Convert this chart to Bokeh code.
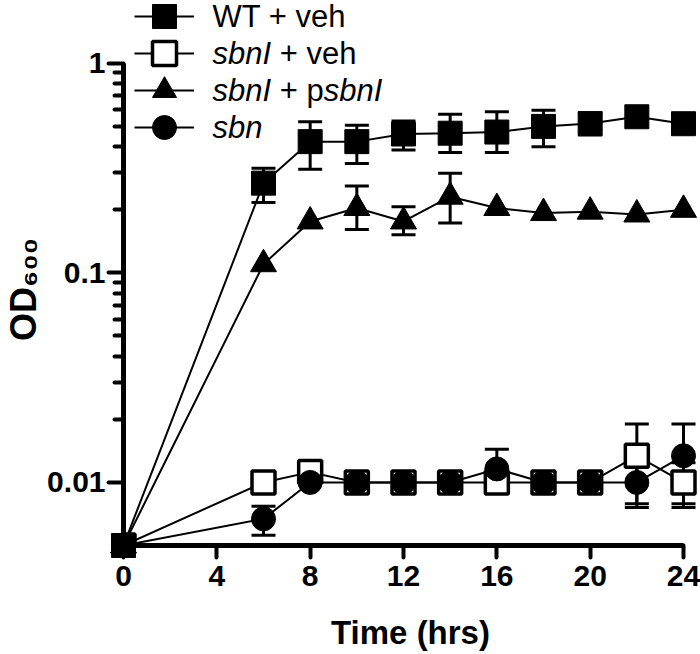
from bokeh.plotting import figure
from bokeh.models import (Range1d, FixedTicker, Whisker, TeeHead, ColumnDataSource,
                          Legend, LegendItem, Label)
from bokeh.embed import file_html
from bokeh.resources import INLINE

# ---------------- data ----------------
time_hrs = [0, 6, 8, 10, 12, 14, 16, 18, 20, 22, 24]

wt_veh = [0.005, 0.268, 0.423, 0.423, 0.46, 0.464, 0.47, 0.50, 0.516, 0.556, 0.515]
sbni_veh = [0.005, 0.010, 0.0112, 0.010, 0.010, 0.010, 0.010, 0.010, 0.010, 0.0134, 0.010]
sbni_psbni = [0.005, 0.110, 0.176, 0.204, 0.176, 0.231, 0.204, 0.193, 0.196, 0.190, 0.200]
sbn = [0.005, 0.0067, 0.010, 0.010, 0.010, 0.010, 0.0116, 0.010, 0.010, 0.010, 0.0134]

wt_err_t = [6, 8, 10, 12, 14, 16, 18, 20]
wt_err_lo = [0.217, 0.312, 0.333, 0.386, 0.375, 0.375, 0.40, 0.455]
wt_err_hi = [0.316, 0.526, 0.507, 0.53, 0.572, 0.587, 0.598, 0.575]

sbni_veh_err_t = [22, 24]
sbni_veh_err_lo = [0.0079, 0.0076]
sbni_veh_err_hi = [0.019, 0.0124]

psbni_err_t = [10, 12, 14]
psbni_err_lo = [0.161, 0.152, 0.173]
psbni_err_hi = [0.26, 0.207, 0.299]

sbn_err_t = [6, 16, 22, 24]
sbn_err_lo = [0.0056, 0.0093, 0.0076, 0.0079]
sbn_err_hi = [0.0077, 0.0144, 0.0124, 0.019]

y_major = [0.01, 0.1, 1]
y_minor = [0.02, 0.03, 0.04, 0.05, 0.06, 0.07, 0.08, 0.09,
           0.2, 0.3, 0.4, 0.5, 0.6, 0.7, 0.8, 0.9]
x_major = [0, 4, 8, 12, 16, 20, 24]

# ---------------- figure ----------------
FRAME_W, FRAME_H = 574, 542
BORDER_L, BORDER_R, BORDER_T, BORDER_B = 123, 3, 3, 109
p = figure(frame_width=FRAME_W, frame_height=FRAME_H, y_axis_type="log",
           x_range=Range1d(0, 24.6), y_range=Range1d(0.005, 1.93),
           output_backend="svg", toolbar_location=None,
           min_border_left=BORDER_L, min_border_right=BORDER_R,
           min_border_top=BORDER_T, min_border_bottom=BORDER_B)
p.xgrid.visible = False
p.ygrid.visible = False
p.outline_line_color = None
p.background_fill_color = "white"
p.border_fill_color = "white"

FONT = "Liberation Sans"

# x axis
xa = p.xaxis[0]
xa.bounds = (0, 24)
xa.ticker = FixedTicker(ticks=x_major)
xa.axis_line_width = 5
xa.major_tick_line_width = 4
xa.major_tick_line_cap = "round"
xa.major_tick_out = 12
xa.major_tick_in = 0
xa.minor_tick_line_color = None
xa.minor_tick_out = 0
xa.major_label_text_font = FONT
xa.major_label_text_font_style = "bold"
xa.major_label_text_font_size = "30px"
xa.major_label_text_color = "black"
xa.major_label_standoff = 8
xa.axis_label = "Time (hrs)"
xa.axis_label_text_font = FONT
xa.axis_label_text_font_style = "bold"
xa.axis_label_text_font_size = "33px"
xa.axis_label_text_color = "black"
xa.axis_label_standoff = 25

# y axis
ya = p.yaxis[0]
ya.bounds = (0.005, 1)
ya.ticker = FixedTicker(ticks=y_major, minor_ticks=y_minor)
ya.major_label_overrides = {v: f"{v:g}" for v in y_major}
ya.axis_line_width = 5
ya.major_tick_line_width = 4
ya.minor_tick_line_width = 4
ya.major_tick_line_cap = "round"
ya.minor_tick_line_cap = "round"
ya.major_tick_out = 15
ya.major_tick_in = 0
ya.minor_tick_out = 9
ya.minor_tick_in = 0
ya.major_label_text_font = FONT
ya.major_label_text_font_style = "bold"
ya.major_label_text_font_size = "30px"
ya.major_label_text_color = "black"
ya.major_label_standoff = 3
ya.axis_label = "OD\u2086\u2080\u2080\u00a0\u00a0\u00a0"
ya.axis_label_text_font = FONT
ya.axis_label_text_font_style = "bold"
ya.axis_label_text_font_size = "36px"
ya.axis_label_text_color = "black"
ya.axis_label_standoff = 0

# ---------------- series ----------------
lw = 2
l1 = p.line(time_hrs, wt_veh, line_color="black", line_width=lw)
l2 = p.line(time_hrs, sbni_veh, line_color="black", line_width=lw)
l3 = p.line(time_hrs, sbni_psbni, line_color="black", line_width=lw)
l4 = p.line(time_hrs, sbn, line_color="black", line_width=lw)

s2 = p.scatter(time_hrs, sbni_veh, marker="square", size=23, fill_color="white",
               line_color="black", line_width=3.5)
s1 = p.scatter(time_hrs, wt_veh, marker="square", size=24, fill_color="black",
               line_color="black", level="overlay")
s3 = p.scatter(time_hrs, sbni_psbni, marker="triangle", size=26, fill_color="black",
               line_color="black", level="overlay")
s4 = p.scatter(time_hrs, sbn, marker="circle", size=24, fill_color="black",
               line_color="black", level="overlay")


def add_err(t, lo, hi):
    src = ColumnDataSource(dict(t=t, lo=lo, hi=hi))
    w = Whisker(source=src, base="t", lower="lo", upper="hi", dimension="height",
                line_color="black", line_width=3,
                upper_head=TeeHead(size=24, line_width=3, line_color="black"),
                lower_head=TeeHead(size=24, line_width=3, line_color="black"))
    p.add_layout(w)


add_err(wt_err_t, wt_err_lo, wt_err_hi)
add_err(sbni_veh_err_t, sbni_veh_err_lo, sbni_veh_err_hi)
add_err(psbni_err_t, psbni_err_lo, psbni_err_hi)
add_err(sbn_err_t, sbn_err_lo, sbn_err_hi)

# ---------------- legend: one single-item legend per row ----------------
row_center = [16, 53, 90, 127]          # px from top of the canvas
frame_bottom = BORDER_T + FRAME_H
frame_left = BORDER_L
key_pairs = [(l1, s1), (l2, s2), (l3, s3), (l4, s4)]
for (lr, sr), cy in zip(key_pairs, row_center):
    lg = Legend(items=[LegendItem(label=" ", renderers=[lr, sr])],
                location=(11, frame_bottom - (cy + 30)),
                glyph_width=60, glyph_height=60, spacing=0,
                padding=0, margin=0, border_line_color=None, background_fill_alpha=0,
                label_text_font_size="1px", label_standoff=0, label_width=1)
    p.add_layout(lg)

FS = 31
tx = 212 - frame_left
w_sbni = 1.89 * FS
w_space = 0.278 * FS
w_plus_p = 1.418 * FS


def lab(x, cy, text, style="normal"):
    p.add_layout(Label(x=x, y=frame_bottom - cy, x_units="screen", y_units="screen", text=text,
                       text_font=FONT, text_font_style=style,
                       text_font_size=f"{FS}px", text_color="black",
                       text_baseline="middle", text_align="left"))


lab(tx, row_center[0], "WT + veh")
lab(tx, row_center[1], "sbnI", "italic")
lab(tx + w_sbni + w_space, row_center[1], "+ veh")
lab(tx, row_center[2], "sbnI", "italic")
lab(tx + w_sbni + w_space, row_center[2], "+ p")
lab(tx + w_sbni + w_space + w_plus_p, row_center[2], "sbnI", "italic")
lab(tx, row_center[3], "sbn", "italic")

open("out.html", "w").write(file_html(p, INLINE))
